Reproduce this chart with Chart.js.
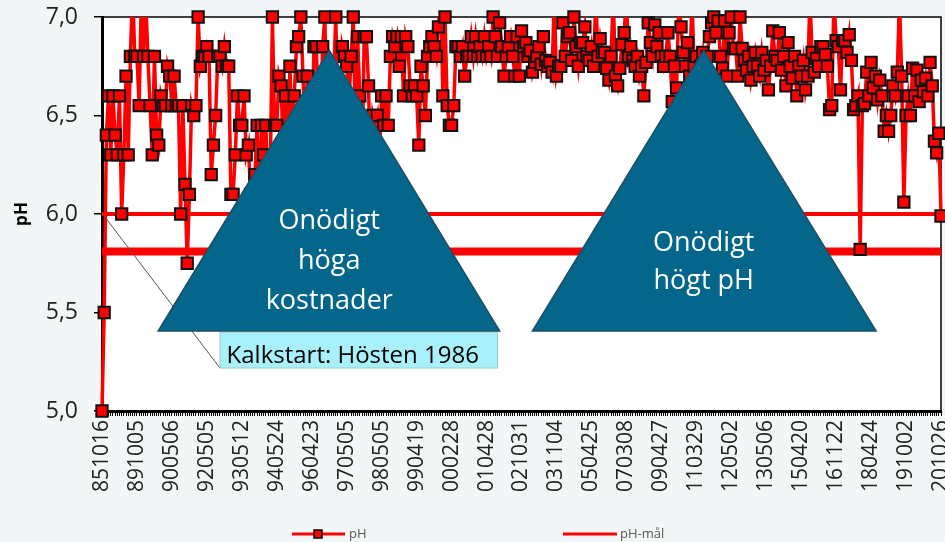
<!DOCTYPE html>
<html>
<head>
<meta charset="utf-8">
<script src="https://cdn.jsdelivr.net/npm/chart.js@4/dist/chart.umd.min.js"></script>
<style>
  html, body { margin: 0; padding: 0; background: #f2f6f7; }
</style>
</head>
<body>
<canvas id="phChart" width="945" height="542"></canvas>
<script>
// tick labels (every 16th sample date, yymmdd)
const tickLabels = ["851016", "891005", "900506", "920505", "930512", "940524", "960423",
  "970505", "980505", "990419", "000228", "010428", "021031", "031104", "050425", "070308",
  "090427", "110329", "120502", "130506", "150420", "161122", "180424", "191002", "201026"];
const tickEvery = 16;

const phValues = [
  5.0, 5.5, 6.4, 6.6, 6.3, 6.6, 6.4, 6.3, 6.6, 6.0,
  6.3, 6.7, 6.3, 6.8, 7.15, 6.8, 6.8, 6.55, 7.1, 6.8,
  7.1, 6.8, 6.55, 6.3, 6.8, 6.4, 6.35, 6.6, 6.55, 6.55,
  6.75, 6.7, 6.55, 6.7, 6.55, 6.55, 6.0, 6.55, 6.15, 5.75,
  6.1, 6.55, 6.5, 6.55, 7.0, 6.75, 6.8, 6.8, 6.85, 6.8,
  6.2, 6.35, 6.5, 6.8, 6.8, 6.75, 6.85, 6.75, 6.75, 6.1,
  6.1, 6.3, 6.6, 6.45, 6.45, 6.6, 6.3, 6.35, 6.1, 6.0,
  6.2, 6.45, 6.0, 6.45, 6.3, 6.45, 6.1, 6.2, 7.0, 6.45,
  6.45, 6.7, 6.65, 6.3, 6.6, 6.2, 6.75, 6.4, 6.6, 6.85,
  6.9, 7.0, 6.7, 6.4, 6.7, 6.5, 6.3, 6.85, 6.85, 6.6,
  6.5, 6.85, 7.0, 6.4, 6.6, 6.3, 6.7, 7.0, 6.5, 6.2,
  6.85, 6.8, 6.75, 6.55, 6.8, 7.0, 6.4, 6.9, 6.6, 6.2,
  6.9, 6.9, 6.65, 6.1, 6.5, 6.45, 6.5, 6.3, 6.6, 6.45,
  6.6, 6.45, 6.8, 6.9, 6.85, 6.9, 6.75, 6.9, 6.6, 6.9,
  6.85, 6.65, 6.6, 6.65, 6.6, 6.35, 6.75, 6.65, 6.5, 6.8,
  6.85, 6.9, 6.85, 6.8, 6.95, 7.15, 6.6, 7.0, 6.55, 6.45,
  6.45, 6.55, 6.85, 6.85, 6.8, 6.85, 6.7, 6.8, 6.8, 6.9,
  6.8, 6.9, 6.8, 6.85, 6.8, 6.9, 6.8, 6.85, 6.8, 7.0,
  6.9, 6.8, 6.97, 6.85, 6.7, 6.8, 6.85, 6.9, 6.8, 6.7,
  6.9, 6.7, 6.93, 6.85, 6.87, 6.8, 6.83, 6.72, 6.77, 6.8,
  6.85, 6.76, 6.9, 6.78, 6.75, 6.77, 6.72, 7.1, 6.7, 6.75,
  6.75, 6.97, 6.8, 6.9, 6.92, 6.78, 7.0, 6.85, 6.75, 6.87,
  6.87, 6.95, 6.8, 6.78, 6.85, 6.75, 7.1, 6.8, 6.89, 6.82,
  6.82, 6.74, 6.68, 6.8, 7.1, 6.7, 6.65, 6.74, 6.86, 6.92,
  7.1, 6.8, 6.85, 6.78, 6.75, 6.8, 6.7, 6.75, 6.6, 6.77,
  6.97, 6.87, 6.8, 6.96, 6.85, 6.92, 6.8, 6.75, 6.8, 6.92,
  6.8, 6.57, 6.75, 6.64, 7.1, 6.95, 6.82, 6.75, 6.87, 6.7,
  7.1, 6.75, 6.8, 6.7, 6.75, 6.82, 6.7, 6.8, 6.9, 6.97,
  7.0, 6.92, 6.98, 6.8, 6.74, 6.98, 6.7, 6.92, 7.0, 6.84,
  6.84, 6.7, 7.0, 6.84, 6.78, 6.73, 6.8, 6.68, 6.75, 6.82,
  6.75, 6.7, 6.82, 6.73, 6.78, 6.63, 6.75, 6.93, 6.8, 6.78,
  6.92, 6.73, 6.8, 6.65, 6.87, 6.75, 6.69, 6.8, 6.6, 6.75,
  6.7, 6.78, 6.63, 6.7, 7.1, 6.82, 6.72, 6.79, 6.75, 6.85,
  6.85, 6.81, 6.75, 6.53, 6.55, 7.1, 6.88, 6.85, 6.63, 6.88,
  6.88, 6.82, 6.91, 6.78, 6.53, 6.55, 6.6, 5.82, 6.55, 6.56,
  6.72, 6.6, 6.77, 6.64, 6.7, 6.58, 6.68, 6.6, 6.42, 6.5,
  6.42, 6.5, 6.65, 6.6, 6.72, 7.1, 6.7, 6.06, 6.5, 6.6,
  6.5, 6.74, 6.6, 6.73, 6.57, 6.68, 6.62, 6.69, 6.6, 6.77,
  6.65, 6.37, 6.31, 6.41, 5.99
];

// target levels
const phTarget = 6.0;     // pH-mål
const phLowLimit = 5.81;  // thick line, no legend entry

const categories = phValues.map((v, i) => i % tickEvery === 0 ? tickLabels[i / tickEvery] : "");
const targetLine = phValues.map(() => phTarget);
const lowLine = phValues.map(() => phLowLimit);

const FONT = "'Open Sans', sans-serif";
const RED = "#ff0000";

function drawTriangle(ctx, pts, lines, px, py) {
  ctx.beginPath();
  ctx.moveTo(px(pts[0][0]), py(pts[0][1]));
  ctx.lineTo(px(pts[1][0]), py(pts[1][1]));
  ctx.lineTo(px(pts[2][0]), py(pts[2][1]));
  ctx.closePath();
  ctx.fillStyle = "#03668a";
  ctx.fill();
  ctx.strokeStyle = "#1c4f66";
  ctx.lineWidth = 1.5;
  ctx.stroke();
  ctx.fillStyle = "#ffffff";
  ctx.font = "27px " + FONT;
  ctx.textAlign = "center";
  ctx.textBaseline = "middle";
  lines.forEach(l => ctx.fillText(l.text, px(l.x), py(l.y)));
}

const decorations = {
  id: "decorations",
  beforeDraw(chart) {
    const { ctx, chartArea: a } = chart;
    ctx.save();
    ctx.fillStyle = "#f2f6f7";
    ctx.fillRect(0, 0, chart.width, chart.height);
    ctx.fillStyle = "#ffffff";
    ctx.fillRect(a.left, a.top, a.right - a.left, a.bottom - a.top);
    ctx.restore();
  },
  beforeDatasetsDraw(chart) {
    const { ctx, chartArea: a } = chart;
    ctx.save();
    ctx.strokeStyle = "#000";
    ctx.lineWidth = 1.5;
    ctx.beginPath();
    ctx.moveTo(a.left, a.top);
    ctx.lineTo(a.right, a.top);
    ctx.lineTo(a.right, a.bottom);
    ctx.stroke();
    ctx.restore();
  },
  afterDraw(chart) {
    const ctx = chart.ctx;
    const px = i => chart.scales.x.getPixelForValue(i);
    const py = v => chart.scales.y.getPixelForValue(v);
    ctx.save();

    // callout for start of liming
    ctx.strokeStyle = "#555";
    ctx.lineWidth = 1;
    ctx.beginPath();
    ctx.moveTo(px(0.3), py(6.0));
    ctx.lineTo(px(54), py(5.218));
    ctx.stroke();
    ctx.fillStyle = "#a8f0fa";
    ctx.fillRect(px(54), py(5.40), px(181) - px(54), py(5.218) - py(5.40));
    ctx.strokeStyle = "#9cc";
    ctx.strokeRect(px(54), py(5.40), px(181) - px(54), py(5.218) - py(5.40));
    ctx.fillStyle = "#000";
    ctx.font = "24px " + FONT;
    ctx.textAlign = "left";
    ctx.textBaseline = "alphabetic";
    ctx.fillText("Kalkstart: Hösten 1986", px(57), py(5.245));

    drawTriangle(ctx, [[104, 6.832], [25.7, 5.406], [182, 5.406]], [
      { text: "Onödigt", x: 104, y: 5.965 },
      { text: "höga", x: 104, y: 5.76 },
      { text: "kostnader", x: 104, y: 5.555 }
    ], px, py);
    drawTriangle(ctx, [[275.4, 6.832], [197, 5.406], [354.3, 5.406]], [
      { text: "Onödigt", x: 275.4, y: 5.85 },
      { text: "högt pH", x: 275.4, y: 5.66 }
    ], px, py);

    // legend
    const ly = 534;
    ctx.strokeStyle = RED;
    ctx.lineWidth = 3;
    ctx.beginPath();
    ctx.moveTo(292, ly); ctx.lineTo(345, ly);
    ctx.moveTo(563, ly); ctx.lineTo(617, ly);
    ctx.stroke();
    ctx.fillStyle = RED;
    ctx.fillRect(314, ly - 4, 8, 8);
    ctx.strokeStyle = "#000";
    ctx.lineWidth = 1.5;
    ctx.strokeRect(314, ly - 4, 8, 8);
    ctx.fillStyle = "#595959";
    ctx.font = "13px " + FONT;
    ctx.textAlign = "left";
    ctx.textBaseline = "middle";
    ctx.fillText("pH", 349, ly);
    ctx.fillText("pH-mål", 620, ly);
    ctx.restore();
  }
};

const ctx = document.getElementById("phChart").getContext("2d");
const phChart = new Chart(ctx, {
  type: "line",
  data: {
    labels: categories,
    datasets: [
      {
        label: "pH punkter",
        data: phValues,
        showLine: false,
        pointStyle: "rect",
        pointRadius: c => c.raw > 7.001 ? 0 : 8,
        pointBackgroundColor: RED,
        pointBorderColor: "#111",
        pointBorderWidth: 2,
        clip: false,
        order: 0
      },
      {
        label: "pH",
        data: phValues,
        borderColor: RED,
        borderWidth: 3.5,
        pointRadius: 0,
        tension: 0,
        clip: { left: 6, top: 0, right: 6, bottom: 6 },
        order: 1
      },
      {
        label: "pH-mål",
        data: targetLine,
        borderColor: RED,
        borderWidth: 4,
        pointRadius: 0,
        order: 2
      },
      {
        label: "gräns",
        data: lowLine,
        borderColor: RED,
        borderWidth: 8,
        pointRadius: 0,
        order: 3
      }
    ]
  },
  options: {
    responsive: false,
    animation: false,
    layout: { autoPadding: false, padding: { top: 17, right: 4, bottom: 31, left: 0 } },
    plugins: {
      legend: { display: false },
      tooltip: { enabled: false }
    },
    scales: {
      x: {
        type: "category",
        offset: false,
        grid: { drawOnChartArea: false, drawTicks: true, tickLength: 5, color: "#000", lineWidth: 1 },
        border: { display: true, color: "#000", width: 3 },
        ticks: {
          autoSkip: false,
          minRotation: 90,
          maxRotation: 90,
          padding: 4,
          color: "#222",
          font: { family: FONT, size: 21 }
        },
        afterFit: s => { s.height = 100; s.paddingLeft = 0; s.paddingRight = 0; }
      },
      y: {
        min: 5,
        max: 7,
        grid: { drawOnChartArea: false, drawTicks: true, tickLength: 8, color: "#000", lineWidth: 1.5 },
        border: { display: true, color: "#000", width: 3 },
        ticks: {
          stepSize: 0.5,
          padding: 16,
          color: "#222",
          font: { family: FONT, size: 23 },
          callback: v => v.toFixed(1).replace(".", ",")
        },
        title: {
          display: true,
          text: "pH",
          color: "#000",
          font: { family: FONT, size: 17, weight: "bold" },
          padding: { top: 12, bottom: 0 }
        },
        afterFit: s => { s.width = 102; s.paddingTop = 0; s.paddingBottom = 0; }
      }
    }
  },
  plugins: [decorations]
});
</script>
</body>
</html>
